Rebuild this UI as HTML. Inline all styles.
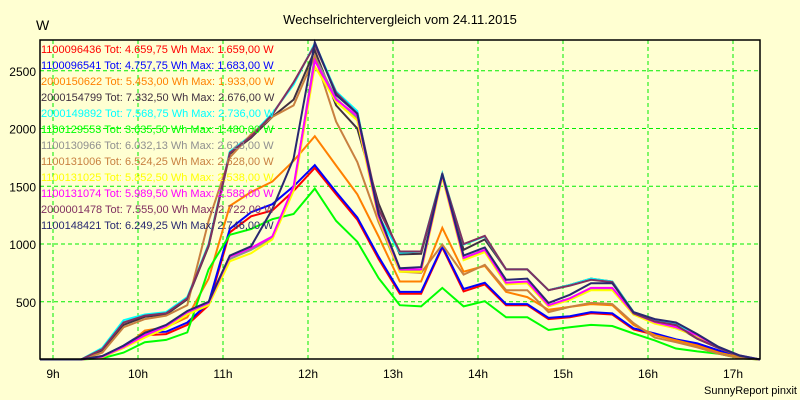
<!DOCTYPE html>
<html><head><meta charset="utf-8">
<style>
body{margin:0;background:#ffffd2;}
svg{display:block;font-family:"Liberation Sans",sans-serif;}
</style></head>
<body>
<svg id="chart" width="800" height="400" viewBox="0 0 800 400">
<rect x="0" y="0" width="800" height="400" fill="#ffffd2"/>
<text x="400" y="24" text-anchor="middle" font-size="13" fill="#000">Wechselrichtervergleich vom 24.11.2015</text>
<text x="36" y="30" font-size="14" fill="#000">W</text>
<text x="797" y="394" text-anchor="end" font-size="11" fill="#000">SunnyReport pinxit</text>
<g id="grid"></g><g id="axes"></g><g id="series"></g><g id="legend"></g>
<rect x="40" y="40" width="720" height="319" fill="none" stroke="#000" stroke-width="1.5"/>
</svg>
<script>
const yTicks=[500,1000,1500,2000,2500];
const xTickLabels=["9h","10h","11h","12h","13h","14h","15h","16h","17h"];
const xTickHours=[9,10,11,12,13,14,15,16,17];
const startHour=8.83, stepHour=0.25;
const seriesNames=["1100096436","1100096541","2000150622","2000154799","2000149892","1100129553","1100130966","1100131006","1100131025","1100131074","2000001478","1100148421"];
const seriesTotals=["4.659,75","4.757,75","5.453,00","7.332,50","7.568,75","3.635,50","6.032,13","6.524,25","5.852,50","5.989,50","7.555,00","6.249,25"];
const seriesMax=["1.659,00","1.683,00","1.933,00","2.676,00","2.736,00","1.480,00","2.623,00","2.628,00","2.538,00","2.588,00","2.722,00","2.746,00"];
const seriesColors=["#ff0000","#0000ff","#ff8000","#403040","#00ffff","#00ff00","#909090","#c88040","#ffff00","#ff00ff","#803060","#282870"];
const sRed=[0,0,0,20,110,210,220,300,470,1100,1240,1290,1460,1659,1430,1210,870,570,570,970,590,650,470,470,350,365,400,390,260,215,165,130,75,15,0];
const sBlue=[0,0,0,25,120,236,240,320,490,1130,1275,1345,1500,1683,1450,1230,890,585,585,980,610,665,480,480,360,375,410,400,270,225,175,140,80,20,0];
const sOrange=[0,0,0,30,100,250,280,365,700,1330,1450,1540,1720,1933,1680,1430,1065,675,675,1140,760,810,585,540,430,455,480,470,300,210,165,120,60,20,0];
const sDark=[0,0,0,80,300,370,390,520,980,1780,1920,2100,2250,2676,2200,2000,1350,910,915,1600,950,1040,780,780,600,645,700,675,410,320,290,180,100,30,0];
const sCyan=[0,0,0,100,340,390,410,540,1000,1800,1940,2130,2380,2736,2320,2150,1240,925,935,1610,995,1065,780,780,600,645,700,675,410,340,315,190,105,35,0];
const sGreen=[0,0,0,10,60,150,170,235,780,1080,1130,1215,1260,1480,1200,1020,705,470,460,620,460,505,365,365,255,280,300,290,225,165,95,70,50,10,0];
const sGray=[0,0,0,20,100,200,280,400,480,870,950,1050,1480,2623,2260,2090,1230,770,770,1590,870,940,655,665,460,520,610,610,390,315,270,200,100,30,0];
const sBrown=[0,0,0,60,280,350,380,470,1200,1750,1950,2100,2200,2628,2060,1710,1190,760,750,995,735,820,600,600,410,455,490,480,315,190,150,105,50,10,0];
const sYellow=[0,0,0,20,100,190,270,390,470,850,920,1040,1460,2538,2230,2070,1220,760,760,1580,860,930,650,660,460,515,600,600,390,310,270,200,100,30,0];
const sMagenta=[0,0,0,25,110,210,290,410,490,890,965,1065,1500,2588,2250,2110,1240,780,780,1600,880,950,665,675,470,530,620,620,400,325,280,210,105,35,0];
const sPurple=[0,0,0,90,320,380,400,530,990,1790,1930,2120,2400,2722,2310,2130,1300,935,935,1600,1000,1070,780,780,600,640,690,670,400,330,300,180,100,30,0];
const sNavy=[0,0,0,30,120,230,300,420,500,900,980,1300,1740,2746,2290,2130,1260,790,800,1610,900,970,690,700,490,560,660,660,410,350,320,220,110,35,0];
const seriesValues=[sRed,sBlue,sOrange,sDark,sCyan,sGreen,sGray,sBrown,sYellow,sMagenta,sPurple,sNavy];

const NS="http://www.w3.org/2000/svg";
const X0=40,X1=760,Y0=359.5,PXPER=0.1155;
function xScale(h){return 53+(h-9)*85;}
function yScale(v){return Y0-v*PXPER;}
function mk(tag,attrs,parent){const e=document.createElementNS(NS,tag);for(const k in attrs)e.setAttribute(k,attrs[k]);parent.appendChild(e);return e;}
const grid=document.getElementById('grid'),axes=document.getElementById('axes'),ser=document.getElementById('series'),leg=document.getElementById('legend');
yTicks.forEach(v=>{
  const y=yScale(v);
  const l=mk('line',{x1:X0,x2:X1,y1:y,y2:y,stroke:'#00ee00','stroke-dasharray':'4,3','stroke-width':1},grid);
  
  
  const t=mk('text',{x:36,y:y+5,'text-anchor':'end','font-size':12,fill:'#000'},axes);
  t.textContent=v;
  
  
});
xTickHours.forEach((h,i)=>{
  const x=xScale(h);
  const l=mk('line',{x1:x,x2:x,y1:40,y2:Y0,stroke:'#00ee00','stroke-dasharray':'4,3','stroke-width':1},grid);
  
  
  const t=mk('text',{x:x,y:378,'text-anchor':'middle','font-size':12,fill:'#000'},axes);
  t.textContent=xTickLabels[i];
  
  
});
seriesValues.forEach((vals,si)=>{
  const pts=vals.map((v,k)=>Math.min(X1,Math.max(X0,xScale(startHour+k*stepHour))).toFixed(1)+','+yScale(v).toFixed(1)).join(' ');
  const p=mk('polyline',{points:pts,fill:'none',stroke:seriesColors[si],'stroke-width':2,'stroke-linejoin':'miter'},ser);
  
  
});
seriesNames.forEach((n,i)=>{
  const t=mk('text',{x:41,y:53+i*16,'font-size':11,fill:seriesColors[i]},leg);
  t.textContent=n+' Tot: '+seriesTotals[i]+' Wh Max: '+seriesMax[i]+' W';
  
  
});
</script>
</body></html>
